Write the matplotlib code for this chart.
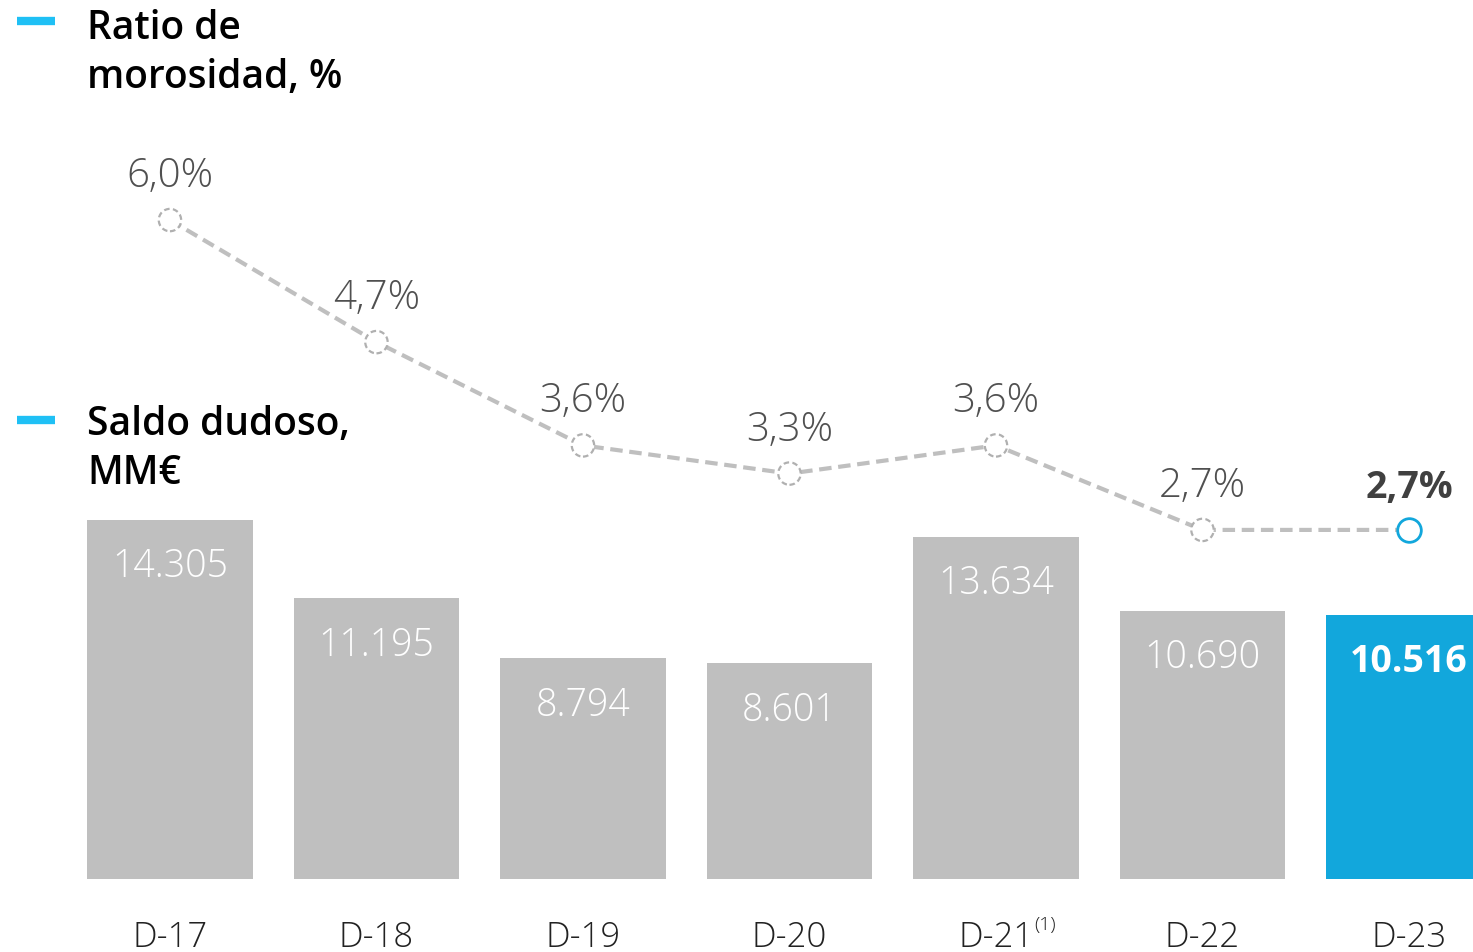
import matplotlib
matplotlib.use("Agg")
import matplotlib.pyplot as plt
from matplotlib.transforms import offset_copy

plt.rcParams["font.family"] = ["Open Sans", "DejaVu Sans"]

# ---------------------------------------
# DATA
# ---------------------------------------
periods = ["D-17", "D-18", "D-19", "D-20", "D-21", "D-22", "D-23"]
period_notes = ["", "", "", "", "(1)", "", ""]
saldo_dudoso = [14305, 11195, 8794, 8601, 13634, 10690, 10516]
saldo_labels = ["14.305", "11.195", "8.794", "8.601", "13.634", "10.690", "10.516"]
ratio_morosidad = [6.0, 4.7, 3.6, 3.3, 3.6, 2.7, 2.7]
ratio_labels = ["6,0%", "4,7%", "3,6%", "3,3%", "3,6%", "2,7%", "2,7%"]

GREY = "#bfbfbf"
BLUE = "#12a7dc"
LEGEND_BLUE = "#1fc0f5"
TEXT_GREY = "#505050"

fig = plt.figure(figsize=(14.73, 9.53), dpi=100)
ax = fig.add_axes([0, 0, 1, 1])
ax2 = ax.twinx()

x = list(range(len(periods)))
colors = [GREY] * (len(periods) - 1) + [BLUE]

# bars
ax.bar(x, saldo_dudoso, width=0.80, color=colors, zorder=1)
ax.set_xlim(-0.823, 6.31)
ax.set_ylim(-2908, 35059)

for i, (v, lab) in enumerate(zip(saldo_dudoso, saldo_labels)):
    last = i == len(periods) - 1
    tr = offset_copy(ax.transData, fig=fig, x=0, y=-27, units="dots")
    ax.text(i, v, lab, transform=tr, ha="center", va="top",
            color="white", fontsize=27,
            fontweight="bold" if last else "light")

# tick labels below bars
for i, (p, note) in enumerate(zip(periods, period_notes)):
    tr = offset_copy(ax.transData, fig=fig, x=0, y=-40, units="dots")
    ax.text(i, 0, p, transform=tr, ha="center", va="top",
            fontsize=25, color="#222222", fontweight="light")
    if note:
        tr_n = offset_copy(ax.transData, fig=fig, x=38, y=-36, units="dots")
        ax.text(i, 0, note, transform=tr_n, ha="left", va="top",
                fontsize=14, color="#222222", fontweight="light")

# line
ax2.plot(x, ratio_morosidad, color=GREY, lw=3, ls=(0, (3, 1.6)), zorder=2)
ax2.scatter(x[:-1], ratio_morosidad[:-1], s=260, facecolors="white",
            edgecolors="#b0b0b0", linewidths=1.6, linestyles=(0, (2.5, 1.5)),
            zorder=3)
ax2.scatter(x[-1:], ratio_morosidad[-1:], s=290, facecolors="white",
            edgecolors=BLUE, linewidths=2, zorder=3)
ax2.set_ylim(-1.795, 8.354)

for i, (v, lab) in enumerate(zip(ratio_morosidad, ratio_labels)):
    last = i == len(periods) - 1
    tr = offset_copy(ax2.transData, fig=fig, x=0, y=24, units="dots")
    ax2.text(i, v, lab, transform=tr, ha="center", va="bottom",
             color="#404040" if last else TEXT_GREY,
             fontsize=27 if last else 29,
             fontweight="bold" if last else "light")

for a in (ax, ax2):
    a.axis("off")

# legend-style headings
fig.add_artist(plt.Line2D([17 / 1473, 55 / 1473], [1 - 22 / 953] * 2,
                          color=LEGEND_BLUE, lw=6, solid_capstyle="butt"))
fig.add_artist(plt.Line2D([17 / 1473, 55 / 1473], [1 - 421 / 953] * 2,
                          color=LEGEND_BLUE, lw=6, solid_capstyle="butt"))
fig.text(87 / 1473, 1 - 9 / 953, "Ratio de\nmorosidad, %", ha="left", va="top",
         fontsize=28, fontweight="semibold", color="black", linespacing=1.3)
fig.text(87 / 1473, 1 - 405 / 953, "Saldo dudoso,\nMM€", ha="left", va="top",
         fontsize=28, fontweight="semibold", color="black", linespacing=1.3)

fig.savefig("out.png", dpi=100, facecolor="white")
